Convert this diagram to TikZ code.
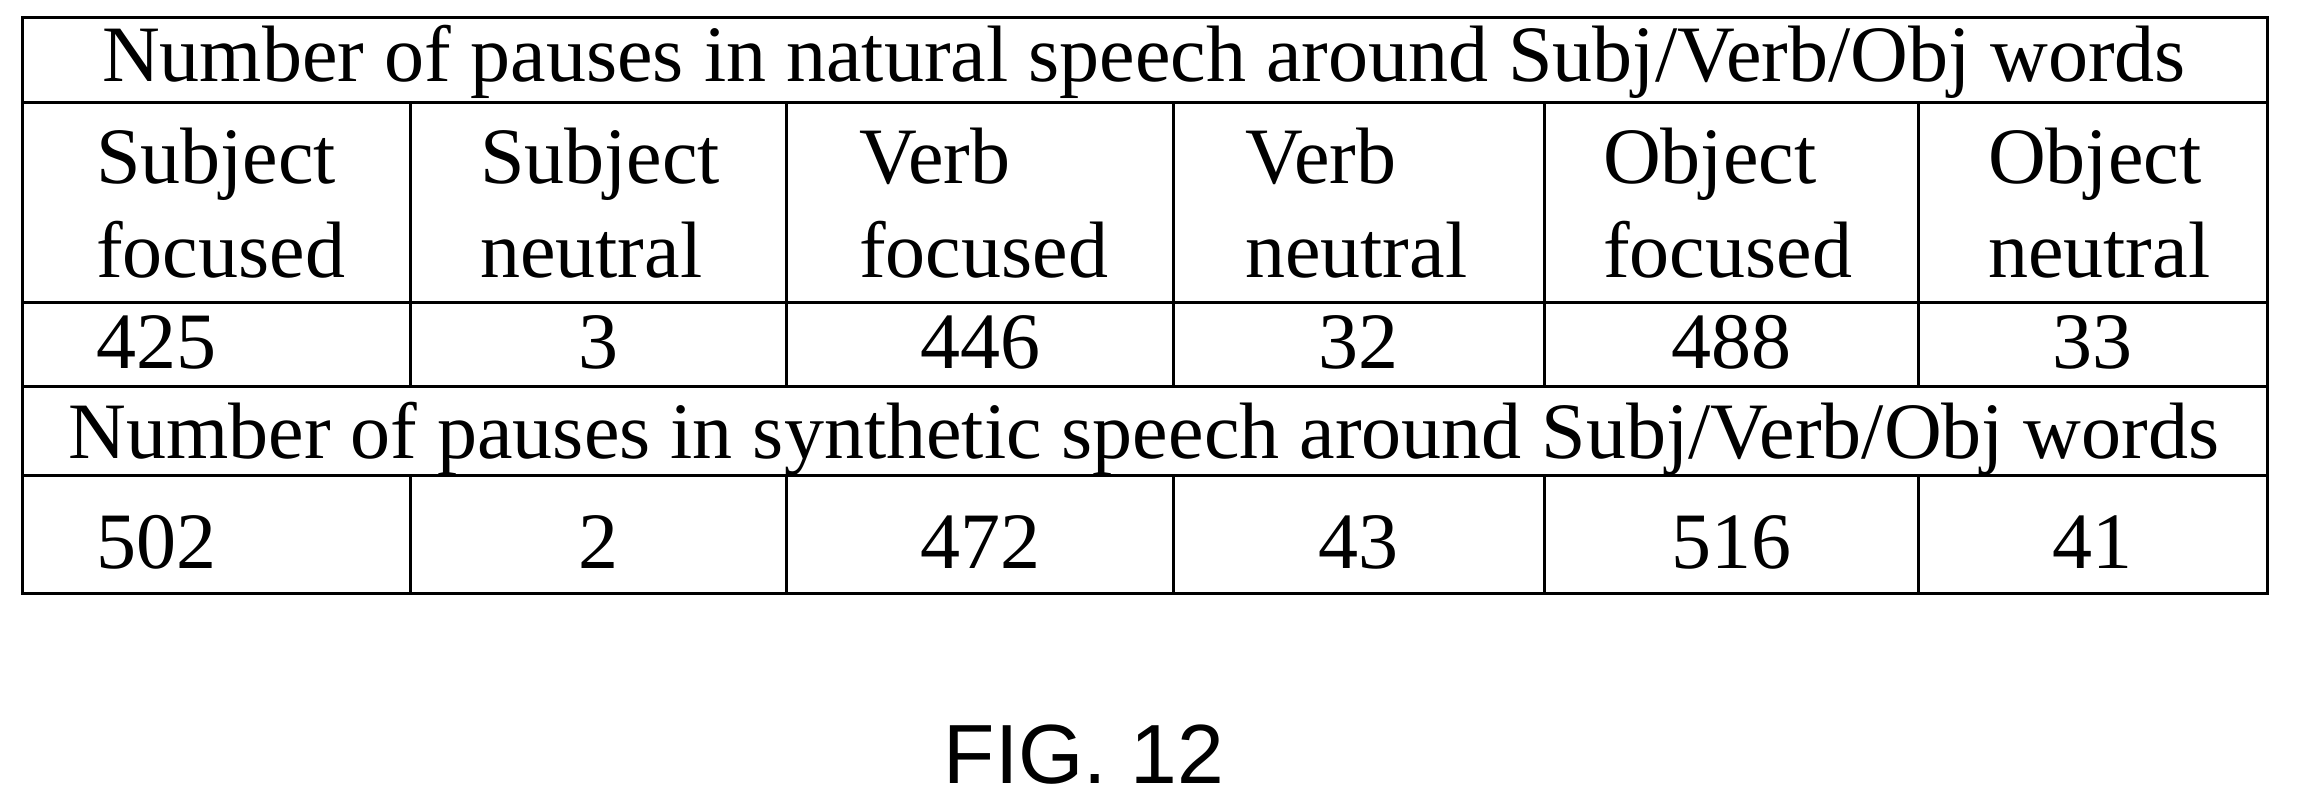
\documentclass[tikz,border=0pt]{standalone}
\usepackage{fontspec}
\setmainfont{Liberation Serif}
\newfontfamily\figfont{Liberation Sans}
\begin{document}
\begin{tikzpicture}[x=1pt,y=-1pt,font=\fontsize{80}{90}\selectfont,
    rule/.style={line width=3pt},
    cell/.style={anchor=base west,inner sep=0pt}]
  \useasboundingbox (0,0) rectangle (2313,805);

  % table frame and rules
  \draw [rule] (22,18) rectangle (2267,593);
  \foreach \y in {103,302,386,475}
    \draw [rule] (22,\y) -- (2267,\y);
  \foreach \x in {410,786,1173,1544,1918}
  {
    \draw [rule] (\x,103) -- (\x,386);
    \draw [rule] (\x,475) -- (\x,593);
  }

  % titles
  \node [anchor=base,inner sep=0pt] (natural) at (1144,82) {Number of pauses in natural speech around Subj/Verb/Obj words};
  \node [anchor=base,inner sep=0pt] (synth) at (1144,458) {Number of pauses in synthetic speech around Subj/Verb/Obj words};

  % column heads
  \foreach \x/\a/\b [count=\k] in {96/Subject/focused,480/Subject/neutral,859/Verb/focused,
      1245/Verb/neutral,1603/Object/focused,1988/Object/neutral}
  {
    \node [cell] (head\k) at (\x,184) {\a};
    \node [cell] (sub\k) at (\x,277) {\b};
  }

  % counts
  \node [cell] (nat1) at (96,368) {425};
  \node [cell] (syn1) at (96,568) {502};
  \foreach \x/\n/\s [count=\k from 2] in {598/3/2,980/446/472,1358/32/43,1731/488/516,2092/33/41}
  {
    \node [anchor=base] (nat\k) at (\x,368) {\n};
    \node [anchor=base] (syn\k) at (\x,568) {\s};
  }

  \node (caption) at (1084,755) {\figfont\fontsize{84}{90}\selectfont FIG. 12};
\end{tikzpicture}
\end{document}
